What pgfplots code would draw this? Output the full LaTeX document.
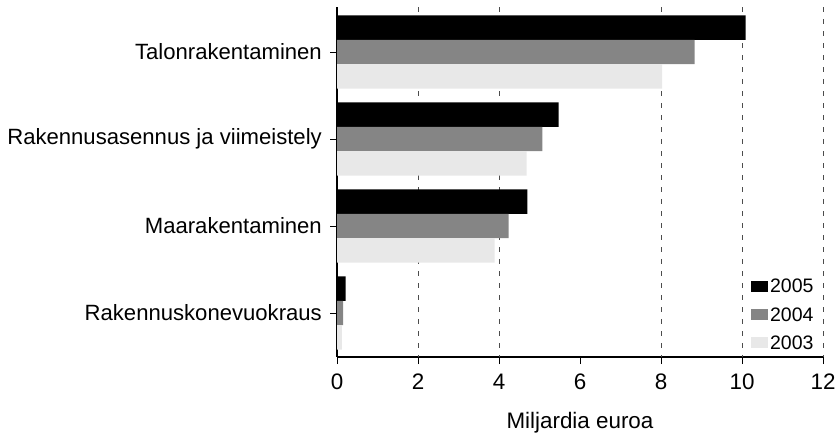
\documentclass[border=0pt]{standalone}
\usepackage{fontspec}
\setmainfont{Liberation Sans}
\usepackage{pgfplots}
\pgfplotsset{compat=1.18}
\begin{document}
\begin{tikzpicture}[x=1bp,y=1bp]
\useasboundingbox (0,0) rectangle (839,432);
\begin{axis}[
  at={(337bp,75bp)}, anchor=south west,
  scale only axis, width=486bp, height=350bp,
  xbar, bar width=0.28,
  xmin=0, xmax=12, ymin=-0.517, ymax=3.506, y dir=reverse,
  axis lines*=left,
  axis line style={line width=1.3bp},
  xtick={0,2,...,12},
  ytick={0,1,2,3},
  yticklabels={Talonrakentaminen, Rakennusasennus ja viimeistely, Maarakentaminen, Rakennuskonevuokraus},
  tick align=outside,
  major tick length=7bp,
  tick style={black, line width=0.8bp},
  every tick label/.append style={font=\fontsize{22.4bp}{26bp}\selectfont},
  /pgf/number format/assume math mode=true,
  y tick label style={inner sep=0bp, xshift=-8bp, font=\fontsize{22.1bp}{26bp}\selectfont},
  x tick label style={inner sep=0bp, yshift=-10bp},
  xlabel={Miljardia euroa},
  xlabel style={font=\fontsize{22.4bp}{26bp}\selectfont, yshift=-12bp},
  extra x ticks={2,4,8,10,12},
  extra x tick labels={},
  extra x tick style={grid=major, major tick length=0pt},
  major grid style={dash pattern=on 5bp off 7bp, black!70, line width=0.8bp},
  legend style={draw=none, fill=none, at={(0.985,0.012)}, anchor=south east,
    font=\fontsize{19.5bp}{23bp}\selectfont, row sep=9bp, inner sep=0bp},
  legend cell align=left,
  legend image code/.code={\fill[#1] (0bp,-5bp) rectangle (17bp,6bp);},
]
\addplot[fill=black, draw=none, bar shift=-0.28] coordinates {(10.09,0) (5.47,1) (4.70,2) (0.21,3)};
\addplot[fill=black!48, draw=none, bar shift=0] coordinates {(8.83,0) (5.07,1) (4.24,2) (0.15,3)};
\addplot[fill=black!9, draw=none, bar shift=0.28] coordinates {(8.03,0) (4.68,1) (3.89,2) (0.12,3)};
\legend{2005,2004,2003}
\end{axis}
\end{tikzpicture}
\end{document}
